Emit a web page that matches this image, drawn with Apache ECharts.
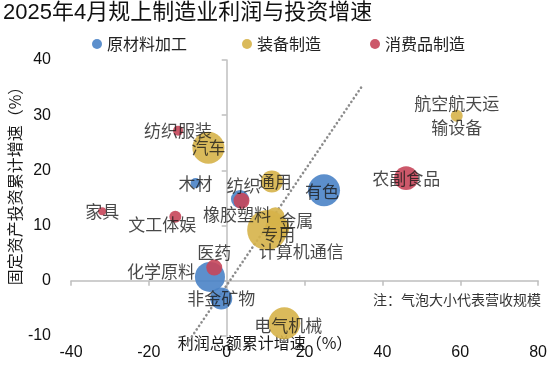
<!DOCTYPE html>
<html><head><meta charset="utf-8">
<script src="https://cdn.jsdelivr.net/npm/echarts@6/dist/echarts.min.js"></script>
<style>html,body{margin:0;padding:0;background:#fff}#c{width:550px;height:369px}</style>
</head><body><div id="c"></div>
<script>
const groups = ['原材料加工', '装备制造', '消费品制造'];

const rawNames   = ['化学原料', '有色', '木材', '橡胶塑料', '非金矿物'];
const rawProfit  = [-4.3, 25.0, -8.0, 3.4, -1.4];
const rawInvest  = [0.7, 16.4, 17.7, 14.8, -3.2];
const rawRevenue = [27600, 31400, 3100, 9900, 14800];

const equipNames   = ['汽车', '通用', '金属', '专用', '计算机通信', '电气机械', '航空航天运\n输设备'];
const equipProfit  = [-4.7, 11.6, 12.5, 13.0, 10.4, 14.8, 59.1];
const equipInvest  = [24.1, 18.0, 11.7, 9.6, 9.2, -7.7, 29.9];
const equipRevenue = [31400, 14800, 9900, 17600, 49000, 31400, 4400];

const consNames   = ['纺织服装', '纺织', '家具', '文工体娱', '医药', '农副食品'];
const consProfit  = [-12.5, 3.8, -32.0, -13.2, -3.2, 46.1];
const consInvest  = [27.2, 14.5, 12.6, 11.6, 2.4, 18.6];
const consRevenue = [3100, 7800, 2000, 4400, 7800, 17600];

const xMin = -40, xMax = 80, xStep = 20;
const yMin = -10, yMax = 40, yStep = 10;
const refLine = [[-10.2, -11.4], [34.8, 35.3]];

const titleText = '2025年4月规上制造业利润与投资增速';
const xName = '利润总额累计增速（%）';
const yName = '固定资产投资累计增速（%）';
const noteText = '注：气泡大小代表营收规模';

// styles
const colors = ['#4a83c6', '#d6b349', '#c7465a'];
const labelOffset = {
  '化学原料': [-49, -5], '橡胶塑料': [-3, 15], '纺织': [2, -15], '金属': [21, 4],
  '专用': [1, 7], '计算机通信': [34, 22], '文工体娱': [-13, 8], '医药': [0, -15],
  '电气机械': [4, 2], '有色': [-2, 1], '通用': [3, 0]
};
const cjk = '"Noto Sans CJK SC", sans-serif';
const num = '"Liberation Sans", Arial, sans-serif';

function pts(names, xs, ys, rs) {
  return names.map((n, i) => ({ name: n, value: [xs[i], ys[i], rs[i]] }));
}
const groupData = [
  pts(rawNames, rawProfit, rawInvest, rawRevenue),
  pts(equipNames, equipProfit, equipInvest, equipRevenue),
  pts(consNames, consProfit, consInvest, consRevenue)
];
const sizeOf = v => 40 * Math.sqrt(v[2] / 49000);

const chart = echarts.init(document.getElementById('c'));
const series = groups.map((g, gi) => ({
  type: 'scatter', name: g, data: groupData[gi],
  symbolSize: sizeOf,
  itemStyle: { color: colors[gi], opacity: 0.9 },
  emphasis: { disabled: true },
  z: 3
}));
series.push({
  type: 'line', data: refLine, symbol: 'none', clip: false, silent: true, z: 2,
  lineStyle: { color: '#8c8c8c', width: 2.6, type: [0.1, 4.2], cap: 'round' }
});
const allPts = [].concat(...groupData).map(d => ({
  name: d.name, value: d.value.slice(0, 2),
  label: { offset: labelOffset[d.name] || [0, 0] }
}));
series.push({
  type: 'scatter', data: allPts, symbolSize: 0, silent: true, z: 10,
  label: {
    show: true, position: 'inside', formatter: p => p.name,
    fontFamily: cjk, fontSize: 17, color: '#1a1a1a', lineHeight: 24
  }
});

const legendBase = {
  icon: 'circle', itemWidth: 10, itemHeight: 10, itemGap: 5, padding: 0, top: 36,
  textStyle: { fontFamily: cjk, fontSize: 16, color: '#222' }
};
const legendLeft = [92, 242, 370];

chart.setOption({
  animation: false,
  backgroundColor: '#fff',
  title: {
    text: titleText, left: 3, top: 2, padding: 0,
    textStyle: { fontFamily: num + ',' + cjk, fontSize: 22, fontWeight: 'normal', color: '#111' }
  },
  legend: groups.map((g, i) => Object.assign({}, legendBase, { data: [g], left: legendLeft[i] })),
  grid: { left: 71, right: 10, top: 60, bottom: 33 },
  xAxis: [
    { type: 'value', min: xMin, max: xMax, interval: xStep, position: 'bottom',
      axisLine: { show: false, onZero: false }, axisTick: { show: false }, splitLine: { show: false },
      axisLabel: { margin: 9, fontFamily: num, fontSize: 16, color: '#111' } },
    { type: 'value', min: xMin, max: xMax, interval: xStep, position: 'bottom',
      axisLine: { show: true, onZero: true, onZeroAxisIndex: 0, lineStyle: { color: '#bfbfbf', width: 1.5 } },
      axisTick: { show: true, length: 5, lineStyle: { color: '#bfbfbf', width: 1.5 } },
      axisLabel: { show: false }, splitLine: { show: false } }
  ],
  yAxis: [
    { type: 'value', min: yMin, max: yMax, interval: yStep, position: 'left',
      axisLine: { show: false, onZero: false }, axisTick: { show: false }, splitLine: { show: false },
      axisLabel: { margin: 20, fontFamily: num, fontSize: 16, color: '#111' } },
    { type: 'value', min: yMin, max: yMax, interval: yStep, position: 'left',
      axisLine: { show: true, onZero: true, onZeroAxisIndex: 0, lineStyle: { color: '#bfbfbf', width: 1.5 } },
      axisTick: { show: true, length: 5, lineStyle: { color: '#bfbfbf', width: 1.5 } },
      axisLabel: { show: false }, splitLine: { show: false } }
  ],
  graphic: [
    { type: 'text', x: 15, y: 182, rotation: Math.PI / 2,
      style: { text: yName, font: '16px ' + cjk, fill: '#1a1a1a', align: 'center', verticalAlign: 'middle' } },
    { type: 'text', x: 265, y: 343,
      style: { text: xName, font: '16px ' + cjk, fill: '#1a1a1a', align: 'center', verticalAlign: 'middle' } },
    { type: 'text', x: 541, y: 300,
      style: { text: noteText, font: '14px ' + cjk, fill: '#333', align: 'right', verticalAlign: 'middle' } }
  ],
  series: series
});
</script></body></html>
